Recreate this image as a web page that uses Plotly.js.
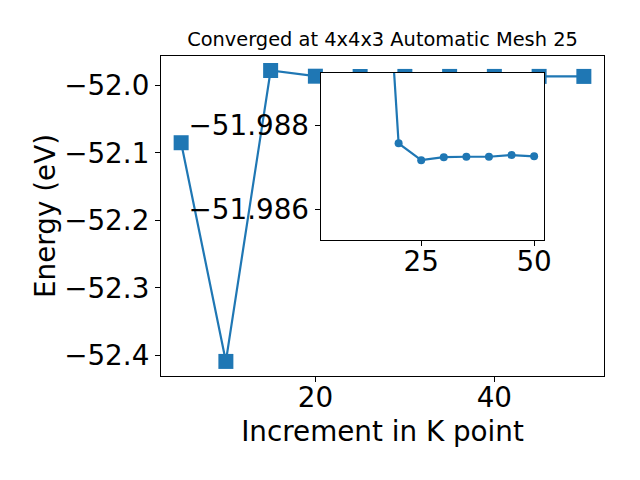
<!DOCTYPE html>
<html>
<head>
<meta charset="utf-8">
<script src="https://cdn.plot.ly/plotly-3.0.1.min.js"></script>
<style>html,body{margin:0;padding:0;background:#fff;}#chart{width:640px;height:480px;}</style>
</head>
<body>
<div id="chart"></div>
<script>
const kpoints = [5, 10, 15, 20, 25, 30, 35, 40, 45, 50];
const energy = [-52.085, -52.409, -51.978, -51.98643, -51.98683, -51.98676, -51.98675, -51.98675, -51.98671, -51.98674];
const insetStart = 2; // inset shows points from 15 onward
const titleText = 'Converged at 4x4x3 Automatic Mesh 25';
const xLabel = 'Increment in K point';
const yLabel = 'Energy (eV)';
const insetYTickVals = [-51.988, -51.986];
const insetYTickText = ['\u221251.986', '\u221251.988'];
const insetYRange = [-51.98873, -51.98475];

const blue = '#1f77b4';
const font = 'DejaVu Sans, sans-serif';
const big = 27.8;

const traces = [
  {x: kpoints, y: energy, xaxis: 'x', yaxis: 'y', mode: 'lines+markers',
   line: {color: blue, width: 2.2}, marker: {symbol: 'square', size: 15, color: blue}},
  {x: kpoints.slice(insetStart), y: energy.slice(insetStart), xaxis: 'x2', yaxis: 'y2', mode: 'lines+markers',
   line: {color: blue, width: 2.2}, marker: {symbol: 'circle', size: 8, color: blue}}
];

const axCommon = {
  showline: true, linecolor: '#000', linewidth: 1.1, mirror: true,
  ticks: 'outside', ticklen: 5, tickwidth: 1.1, tickcolor: '#000',
  showgrid: false, zeroline: false,
  tickfont: {family: font, size: big, color: '#000'}
};

const layout = {
  width: 640, height: 480,
  paper_bgcolor: '#fff', plot_bgcolor: '#fff',
  margin: {l: 161, r: 36, t: 56, b: 104},
  showlegend: false,
  font: {family: font, color: '#000'},
  title: {text: titleText, font: {family: font, size: 19.4, color: '#000'},
          x: 0.5, xanchor: 'center', y: 1 - 39/480, yanchor: 'middle', xref: 'paper', yref: 'container'},
  xaxis: Object.assign({}, axCommon, {domain: [0, 1], range: [2.75, 52.25], dtick: 20, tick0: 0, ticklabelstandoff: -8,
    title: {text: xLabel, font: {family: font, size: big, color: '#000'}, standoff: 8}}),
  yaxis: Object.assign({}, axCommon, {domain: [0, 1], range: [-52.4306, -51.9565], dtick: 0.1, tick0: 0, tickformat: '.1f',
    title: {text: yLabel, font: {family: font, size: big, color: '#000'}, standoff: 0}}),
  xaxis2: Object.assign({}, axCommon, {domain: [0.3605, 0.8652], range: [2.75, 52.25], dtick: 25, tick0: 0, ticklabelstandoff: -8, anchor: 'y2'}),
  yaxis2: Object.assign({}, axCommon, {domain: [0.425, 0.9478], range: insetYRange, tickvals: insetYTickVals, ticktext: insetYTickText, anchor: 'x2'})
};

Plotly.newPlot('chart', traces, layout, {displayModeBar: false, staticPlot: true});
</script>
</body>
</html>
